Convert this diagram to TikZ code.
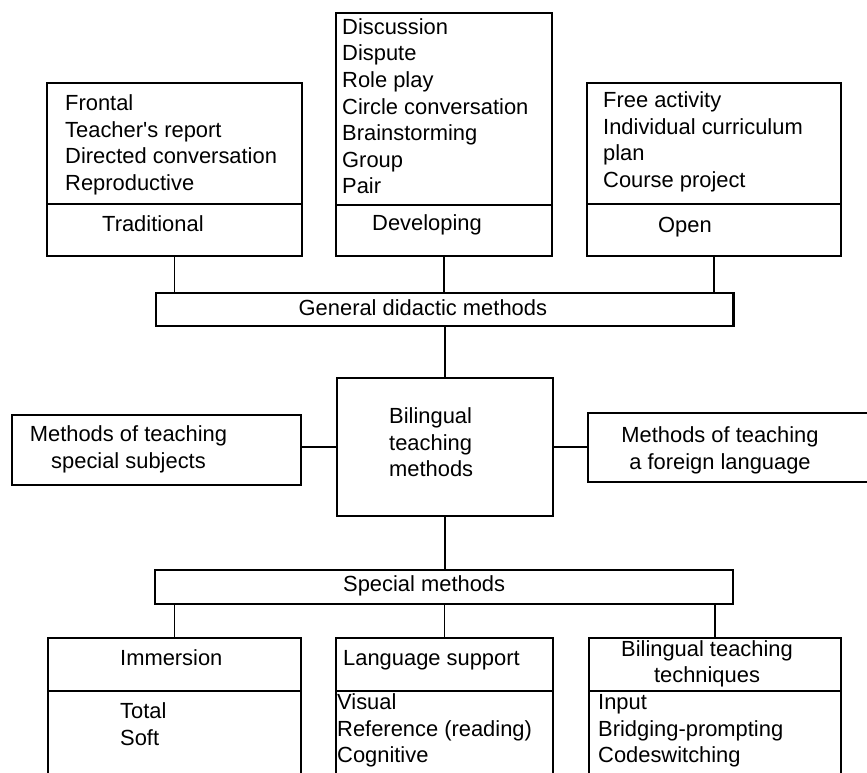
\documentclass[tikz,border=0pt]{standalone}
\usepackage{fontspec}
\setmainfont{Liberation Sans}[Ligatures=TeXOff]

\begin{document}
\begin{tikzpicture}[x=1pt, y=-1pt,
  box/.style={draw, line width=2.4pt, inner sep=0pt},
  txt/.style={font=\fontsize{21.9}{26.6}\selectfont, inner sep=0pt,
              align=left, anchor=base west},
  link/.style={line width=1.8pt}
]
\useasboundingbox (0,0) rectangle (867,773);
\clip (0,0) rectangle (867,773);

% Top row
\node[box, minimum width=255pt, minimum height=121pt] (tradlist) at (174.5,143.5) {};
\node[box, minimum width=255pt, minimum height=52pt] (trad) at (174.5,230) {};
\node[box, minimum width=216pt, minimum height=192pt] (devlist) at (444,109) {};
\node[box, minimum width=216pt, minimum height=51pt] (dev) at (444,230.5) {};
\node[box, minimum width=254pt, minimum height=121pt] (openlist) at (714,143.5) {};
\node[box, minimum width=254pt, minimum height=52pt] (open) at (714,230) {};

% (base anchor = last line)
\node[txt] (tradtxt) at (65,190.6)
  {Frontal\\Teacher's report\\Directed conversation\\Reproductive};
\node[txt] (tradlbl) at (102,231) {Traditional};
\node[txt] (devtxt) at (342,193.8)
  {Discussion\\Dispute\\Role play\\Circle conversation\\Brainstorming\\Group\\Pair};
\node[txt] (devlbl) at (372,230) {Developing};
\node[txt] (opentxt) at (603,187.2)
  {Free activity\\Individual curriculum\\plan\\Course project};
\node[txt] (openlbl) at (658,232) {Open};

% General methods
\node[box, minimum width=577.5pt, minimum height=33pt] (gen) at (444.75,309.5) {};
\node[txt] (gentxt) at (298.5,315) {General didactic methods};

\draw[link] (trad.south) -- (trad.south |- gen.north);
\draw[link] (dev.south) -- (dev.south |- gen.north);
\draw[link] (open.south) -- (open.south |- gen.north);

% Middle row
\node[box, minimum width=216pt, minimum height=138pt] (bil) at (445,447) {};
\node[txt] (biltxt) at (389,476.7) {Bilingual\\teaching\\methods};
\node[box, minimum width=289pt, minimum height=70pt] (subj) at (156.5,450) {};
\node[txt, align=center, anchor=base] (subjtxt) at (128.5,468)
  {Methods of teaching\\special subjects};
\node[box, minimum width=292pt, minimum height=69pt] (lang) at (734,447.5) {};
\node[txt, align=center, anchor=base] (langtxt) at (720,469)
  {Methods of teaching\\a foreign language};

\draw[link] (bil.north |- gen.south) -- (bil.north);
\draw[link] (subj.east |- 0,447) -- (bil.west |- 0,447);
\draw[link] (bil.east |- 0,447) -- (lang.west |- 0,447);

% Special methods
\node[box, minimum width=578pt, minimum height=34pt] (spec) at (444,587) {};
\node[txt] (spectxt) at (343,591.7) {Special methods};
\draw[link] (bil.south) -- (bil.south |- spec.north);

% Bottom row
\node[box, minimum width=253pt, minimum height=53pt] (imm) at (174.5,664.5) {};
\node[box, minimum width=253pt, minimum height=109pt] (immlist) at (174.5,745.5) {};
\node[box, minimum width=217pt, minimum height=53pt] (sup) at (444.5,664.5) {};
\node[box, minimum width=217pt, minimum height=109pt] (suplist) at (444.5,745.5) {};
\node[box, minimum width=252pt, minimum height=53pt] (tech) at (715,664.5) {};
\node[box, minimum width=252pt, minimum height=109pt] (techlist) at (715,745.5) {};

\node[txt] (immlbl) at (120,665) {Immersion};
\node[txt] (immtxt) at (120,745) {Total\\Soft};
\node[txt] (suplbl) at (343,665) {Language support};
\node[txt] (suptxt) at (337,762.7) {Visual\\Reference (reading)\\Cognitive};
\node[txt, align=center, anchor=base] (techlbl) at (707,682.7)
  {Bilingual teaching\\techniques};
\node[txt] (techtxt) at (598,762.7) {Input\\Bridging-prompting\\Codeswitching};

\draw[link] (imm.north |- spec.south) -- (imm.north);
\draw[link] (sup.north |- spec.south) -- (sup.north);
\draw[link] (tech.north |- spec.south) -- (tech.north);
\end{tikzpicture}
\end{document}
